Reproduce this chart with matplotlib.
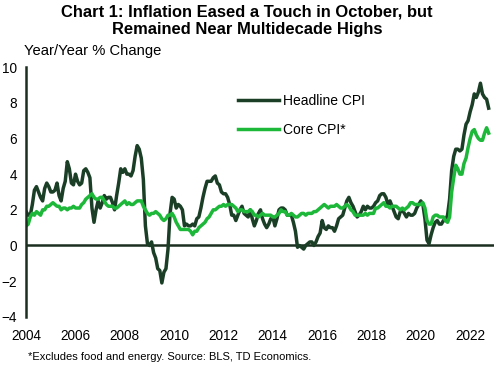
import matplotlib
matplotlib.use("Agg")
import matplotlib.pyplot as plt
import numpy as np

plt.rcParams['font.family'] = ['Liberation Sans', 'DejaVu Sans']

# monthly y/y % change, Jan 2004 - Oct 2022
headline = [
    1.9, 1.7, 1.7, 2.3, 3.1, 3.3, 3.0, 2.7, 2.5, 3.2, 3.5, 3.3,
    3.0, 3.0, 3.1, 3.5, 2.8, 2.5, 3.2, 3.6, 4.7, 4.3, 3.5, 3.4,
    4.0, 3.6, 3.4, 3.5, 4.2, 4.3, 4.1, 3.8, 2.1, 1.3, 2.0, 2.5,
    2.1, 2.4, 2.8, 2.6, 2.7, 2.7, 2.4, 2.0, 2.8, 3.5, 4.3, 4.1,
    4.3, 4.0, 4.0, 3.9, 4.2, 5.0, 5.6, 5.4, 4.9, 3.7, 1.1, 0.1,
    0.0, 0.2, -0.4, -0.7, -1.3, -1.4, -2.1, -1.5, -1.3, -0.2, 1.8, 2.7,
    2.6, 2.1, 2.3, 2.2, 2.0, 1.1, 1.2, 1.1, 1.1, 1.2, 1.1, 1.5,
    1.6, 2.1, 2.7, 3.2, 3.6, 3.6, 3.6, 3.8, 3.9, 3.5, 3.4, 3.0,
    2.9, 2.9, 2.7, 2.3, 1.7, 1.7, 1.4, 1.7, 2.0, 2.2, 1.8, 1.7,
    1.6, 2.0, 1.5, 1.1, 1.4, 1.8, 2.0, 1.5, 1.2, 1.0, 1.2, 1.5,
    1.6, 1.1, 1.5, 2.0, 2.1, 2.1, 2.0, 1.7, 1.7, 1.7, 1.3, 0.8,
    -0.1, 0.0, -0.1, -0.2, 0.0, 0.1, 0.2, 0.2, 0.0, 0.2, 0.5, 0.7,
    1.4, 1.0, 0.9, 1.1, 1.0, 1.0, 0.8, 1.1, 1.5, 1.6, 1.7, 2.1,
    2.5, 2.7, 2.4, 2.2, 1.9, 1.6, 1.7, 1.9, 2.2, 2.0, 2.2, 2.1,
    2.1, 2.2, 2.4, 2.5, 2.8, 2.9, 2.9, 2.7, 2.3, 2.5, 2.2, 1.9,
    1.6, 1.5, 1.9, 2.0, 1.8, 1.6, 1.8, 1.7, 1.7, 1.8, 2.1, 2.3,
    2.5, 2.3, 1.5, 0.3, 0.1, 0.6, 1.0, 1.3, 1.4, 1.2, 1.2, 1.4,
    1.4, 1.7, 2.6, 4.2, 5.0, 5.4, 5.4, 5.3, 5.4, 6.2, 6.8, 7.0,
    7.5, 7.9, 8.5, 8.3, 8.6, 9.1, 8.5, 8.3, 8.2, 7.7,
]
core = [
    1.1, 1.2, 1.6, 1.8, 1.7, 1.9, 1.8, 1.7, 2.0, 2.0, 2.2, 2.2,
    2.3, 2.4, 2.3, 2.2, 2.2, 2.0, 2.1, 2.1, 2.0, 2.1, 2.1, 2.2,
    2.1, 2.1, 2.1, 2.3, 2.4, 2.6, 2.7, 2.8, 2.9, 2.7, 2.6, 2.6,
    2.7, 2.7, 2.5, 2.3, 2.2, 2.2, 2.2, 2.1, 2.1, 2.2, 2.3, 2.4,
    2.5, 2.3, 2.4, 2.3, 2.3, 2.4, 2.5, 2.5, 2.5, 2.2, 2.0, 1.8,
    1.7, 1.8, 1.8, 1.9, 1.8, 1.7, 1.5, 1.4, 1.5, 1.7, 1.7, 1.8,
    1.6, 1.3, 1.1, 0.9, 0.9, 0.9, 0.9, 0.9, 0.8, 0.6, 0.8, 0.8,
    1.0, 1.1, 1.2, 1.3, 1.5, 1.6, 1.8, 2.0, 2.0, 2.1, 2.2, 2.2,
    2.3, 2.2, 2.3, 2.3, 2.3, 2.2, 2.1, 1.9, 2.0, 2.0, 1.9, 1.9,
    1.9, 2.0, 1.9, 1.7, 1.7, 1.6, 1.7, 1.8, 1.7, 1.7, 1.7, 1.7,
    1.6, 1.6, 1.7, 1.8, 2.0, 1.9, 1.9, 1.7, 1.7, 1.8, 1.7, 1.6,
    1.6, 1.7, 1.8, 1.8, 1.7, 1.8, 1.8, 1.8, 1.9, 1.9, 2.0, 2.1,
    2.2, 2.3, 2.2, 2.1, 2.2, 2.2, 2.2, 2.3, 2.2, 2.1, 2.1, 2.2,
    2.3, 2.2, 2.0, 1.9, 1.7, 1.7, 1.7, 1.7, 1.7, 1.8, 1.7, 1.8,
    1.8, 1.8, 2.1, 2.1, 2.2, 2.3, 2.4, 2.2, 2.2, 2.1, 2.2, 2.2,
    2.2, 2.1, 2.0, 2.1, 2.0, 2.1, 2.2, 2.4, 2.4, 2.3, 2.3, 2.3,
    2.3, 2.4, 2.1, 1.4, 1.2, 1.2, 1.6, 1.7, 1.7, 1.6, 1.6, 1.6,
    1.4, 1.3, 1.6, 3.0, 3.8, 4.5, 4.3, 4.0, 4.0, 4.6, 4.9, 5.5,
    6.0, 6.4, 6.5, 6.2, 6.0, 5.9, 5.9, 6.3, 6.6, 6.3,
]
start_year = 2004
year_ticks = list(range(2004, 2023, 2))

dates = start_year + np.arange(len(headline)) / 12.0

fig = plt.figure(figsize=(4.94, 3.71), dpi=100)
ax = fig.add_axes([0.053, 0.146, 0.947, 0.673])

ax.plot(dates, headline, color='#1b3f26', lw=2.5, label='Headline CPI', solid_joinstyle='round')
ax.plot(dates, core, color='#1db83a', lw=2.5, label='Core CPI*', solid_joinstyle='round')
ax.axhline(0, color='#1b2e1f', lw=1.8, zorder=0)

ax.set_xlim(2004, 2004 + 227.6 / 12)
ax.set_ylim(-4, 10)
ax.set_yticks(range(-4, 11, 2))
ax.set_xticks(year_ticks)
ax.set_xticklabels([str(y) for y in year_ticks])
ax.tick_params(axis='both', length=0, labelsize=9.8, colors='black')
ax.tick_params(axis='y', pad=6.5)
ax.tick_params(axis='x', pad=9)
for s in ['top', 'right', 'bottom']:
    ax.spines[s].set_visible(False)
ax.spines['left'].set_color('#1b2e1f')
ax.spines['left'].set_linewidth(1.8)

ax.legend(loc='upper left', bbox_to_anchor=(0.425, 0.944), frameon=False,
          fontsize=10, handlelength=3.0, handletextpad=0.25, labelspacing=1.1)

fig.text(0.5, 0.987, 'Chart 1: Inflation Eased a Touch in October, but\nRemained Near Multidecade Highs',
         ha='center', va='top', fontsize=11.9, fontweight='bold', linespacing=1.15)
fig.text(0.049, 0.862, 'Year/Year % Change', ha='left', va='center', fontsize=10.6)
fig.text(0.057, 0.037, '*Excludes food and energy. Source: BLS, TD Economics.',
         ha='left', va='center', fontsize=8)

fig.savefig('out.png', dpi=100)
